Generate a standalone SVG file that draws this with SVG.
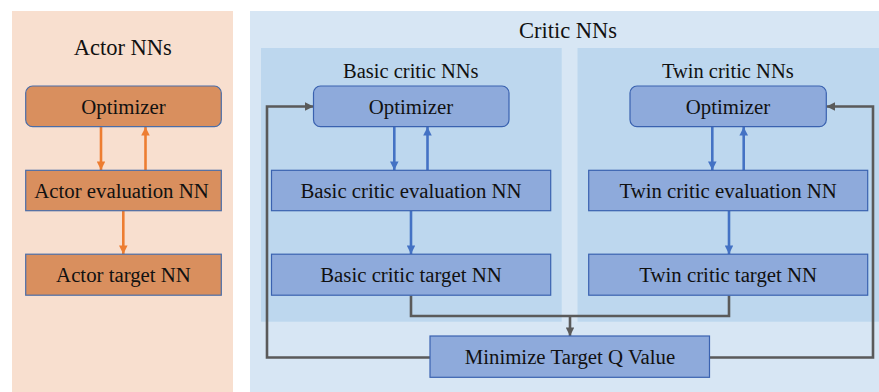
<svg xmlns="http://www.w3.org/2000/svg" width="879" height="392" viewBox="0 0 879 392">
<defs>
<style>
text{fill:#111;text-anchor:middle}
.h{font-size:22.5px}
.s{font-size:20.5px}
.b{font-size:20.8px}
.ab{fill:#D98F5E;stroke:#4A6DA8;stroke-width:1.2}
.cb{fill:#8EAADB;stroke:#3A62B0;stroke-width:1.2}
.oa{stroke:#ED7D31;stroke-width:2.6;fill:none}
.ba{stroke:#4472C4;stroke-width:2.6;fill:none}
.ga{stroke:#5A5A5A;stroke-width:2.6;fill:none}
</style>
<marker id="mo" viewBox="0 0 10 10" refX="10" refY="5" markerWidth="3.3" markerHeight="3.3" markerUnits="strokeWidth" orient="auto"><path d="M0,0 L10,5 L0,10 z" fill="#ED7D31"/></marker>
<marker id="mb" viewBox="0 0 10 10" refX="10" refY="5" markerWidth="3.3" markerHeight="3.3" markerUnits="strokeWidth" orient="auto"><path d="M0,0 L10,5 L0,10 z" fill="#4472C4"/></marker>
<marker id="mg" viewBox="0 0 10 10" refX="10" refY="5" markerWidth="3.3" markerHeight="3.3" markerUnits="strokeWidth" orient="auto"><path d="M0,0 L10,5 L0,10 z" fill="#5A5A5A"/></marker>
</defs>
<rect width="879" height="392" fill="#fff"/>
<g font-family="Liberation Serif, Times New Roman, serif">
<g id="actor-panel">
<rect x="12" y="11" width="221" height="381" fill="#F8DFCF"/>
<text class="h" x="122.7" y="55">Actor NNs</text>
</g>
<g id="critic-panel">
<rect x="250" y="11" width="629" height="381" fill="#D7E6F4"/>
<text class="h" x="568" y="38">Critic NNs</text>
</g>
<g id="basic-panel">
<rect x="261" y="48" width="300.7" height="273.7" fill="#BDD7EE"/>
<text class="s" x="410.8" y="77.5">Basic critic NNs</text>
</g>
<g id="twin-panel">
<rect x="577.5" y="48" width="301.5" height="273.7" fill="#BDD7EE"/>
<text class="s" x="727.8" y="77.5">Twin critic NNs</text>
</g>
<g id="connectors">
<line class="oa" x1="101" y1="127" x2="101" y2="170" marker-end="url(#mo)"/>
<line class="oa" x1="145.5" y1="170" x2="145.5" y2="127" marker-end="url(#mo)"/>
<line class="oa" x1="123.3" y1="211" x2="123.3" y2="254" marker-end="url(#mo)"/>
<line class="ba" x1="394.3" y1="127" x2="394.3" y2="170" marker-end="url(#mb)"/>
<line class="ba" x1="427.5" y1="170" x2="427.5" y2="127" marker-end="url(#mb)"/>
<line class="ba" x1="411" y1="211" x2="411" y2="254" marker-end="url(#mb)"/>
<line class="ba" x1="712.3" y1="127" x2="712.3" y2="170" marker-end="url(#mb)"/>
<line class="ba" x1="743.7" y1="170" x2="743.7" y2="127" marker-end="url(#mb)"/>
<line class="ba" x1="729" y1="211" x2="729" y2="254" marker-end="url(#mb)"/>
<polyline class="ga" points="411,295.5 411,316 729,316 729,295.5"/>
<line class="ga" x1="570" y1="316" x2="570" y2="336" marker-end="url(#mg)"/>
<polyline class="ga" points="430,357.5 267,357.5 267,106.5 313.5,106.5" marker-end="url(#mg)"/>
<polyline class="ga" points="709.5,357.5 873,357.5 873,106.5 826.5,106.5" marker-end="url(#mg)"/>
</g>
<g id="actor-optimizer">
<rect class="ab" x="25.7" y="86" width="195.6" height="40.7" rx="7"/>
<text class="b" x="123.5" y="114">Optimizer</text>
</g>
<g id="actor-eval">
<rect class="ab" x="25.7" y="170.3" width="195.6" height="40.4"/>
<text class="b" x="121.5" y="198">Actor evaluation NN</text>
</g>
<g id="actor-target">
<rect class="ab" x="25.7" y="254.2" width="195.6" height="41"/>
<text class="b" x="123.5" y="282">Actor target NN</text>
</g>
<g id="basic-optimizer">
<rect class="cb" x="313.5" y="86" width="195.5" height="40.7" rx="7"/>
<text class="b" x="411" y="114">Optimizer</text>
</g>
<g id="basic-eval">
<rect class="cb" x="271.5" y="170.3" width="279.2" height="40.4"/>
<text class="b" x="411" y="198">Basic critic evaluation NN</text>
</g>
<g id="basic-target">
<rect class="cb" x="271.5" y="254.2" width="279.2" height="41"/>
<text class="b" x="411" y="282">Basic critic target NN</text>
</g>
<g id="twin-optimizer">
<rect class="cb" x="630" y="86" width="196.3" height="40.7" rx="7"/>
<text class="b" x="728" y="114">Optimizer</text>
</g>
<g id="twin-eval">
<rect class="cb" x="588.7" y="170.3" width="279" height="40.4"/>
<text class="b" x="728.2" y="198">Twin critic evaluation NN</text>
</g>
<g id="twin-target">
<rect class="cb" x="588.7" y="254.2" width="279" height="41"/>
<text class="b" x="728.2" y="282">Twin critic target NN</text>
</g>
<g id="minimize">
<rect class="cb" x="430" y="336" width="279.5" height="41.3"/>
<text class="b" x="570" y="364">Minimize Target Q Value</text>
</g>
</g>
</svg>
